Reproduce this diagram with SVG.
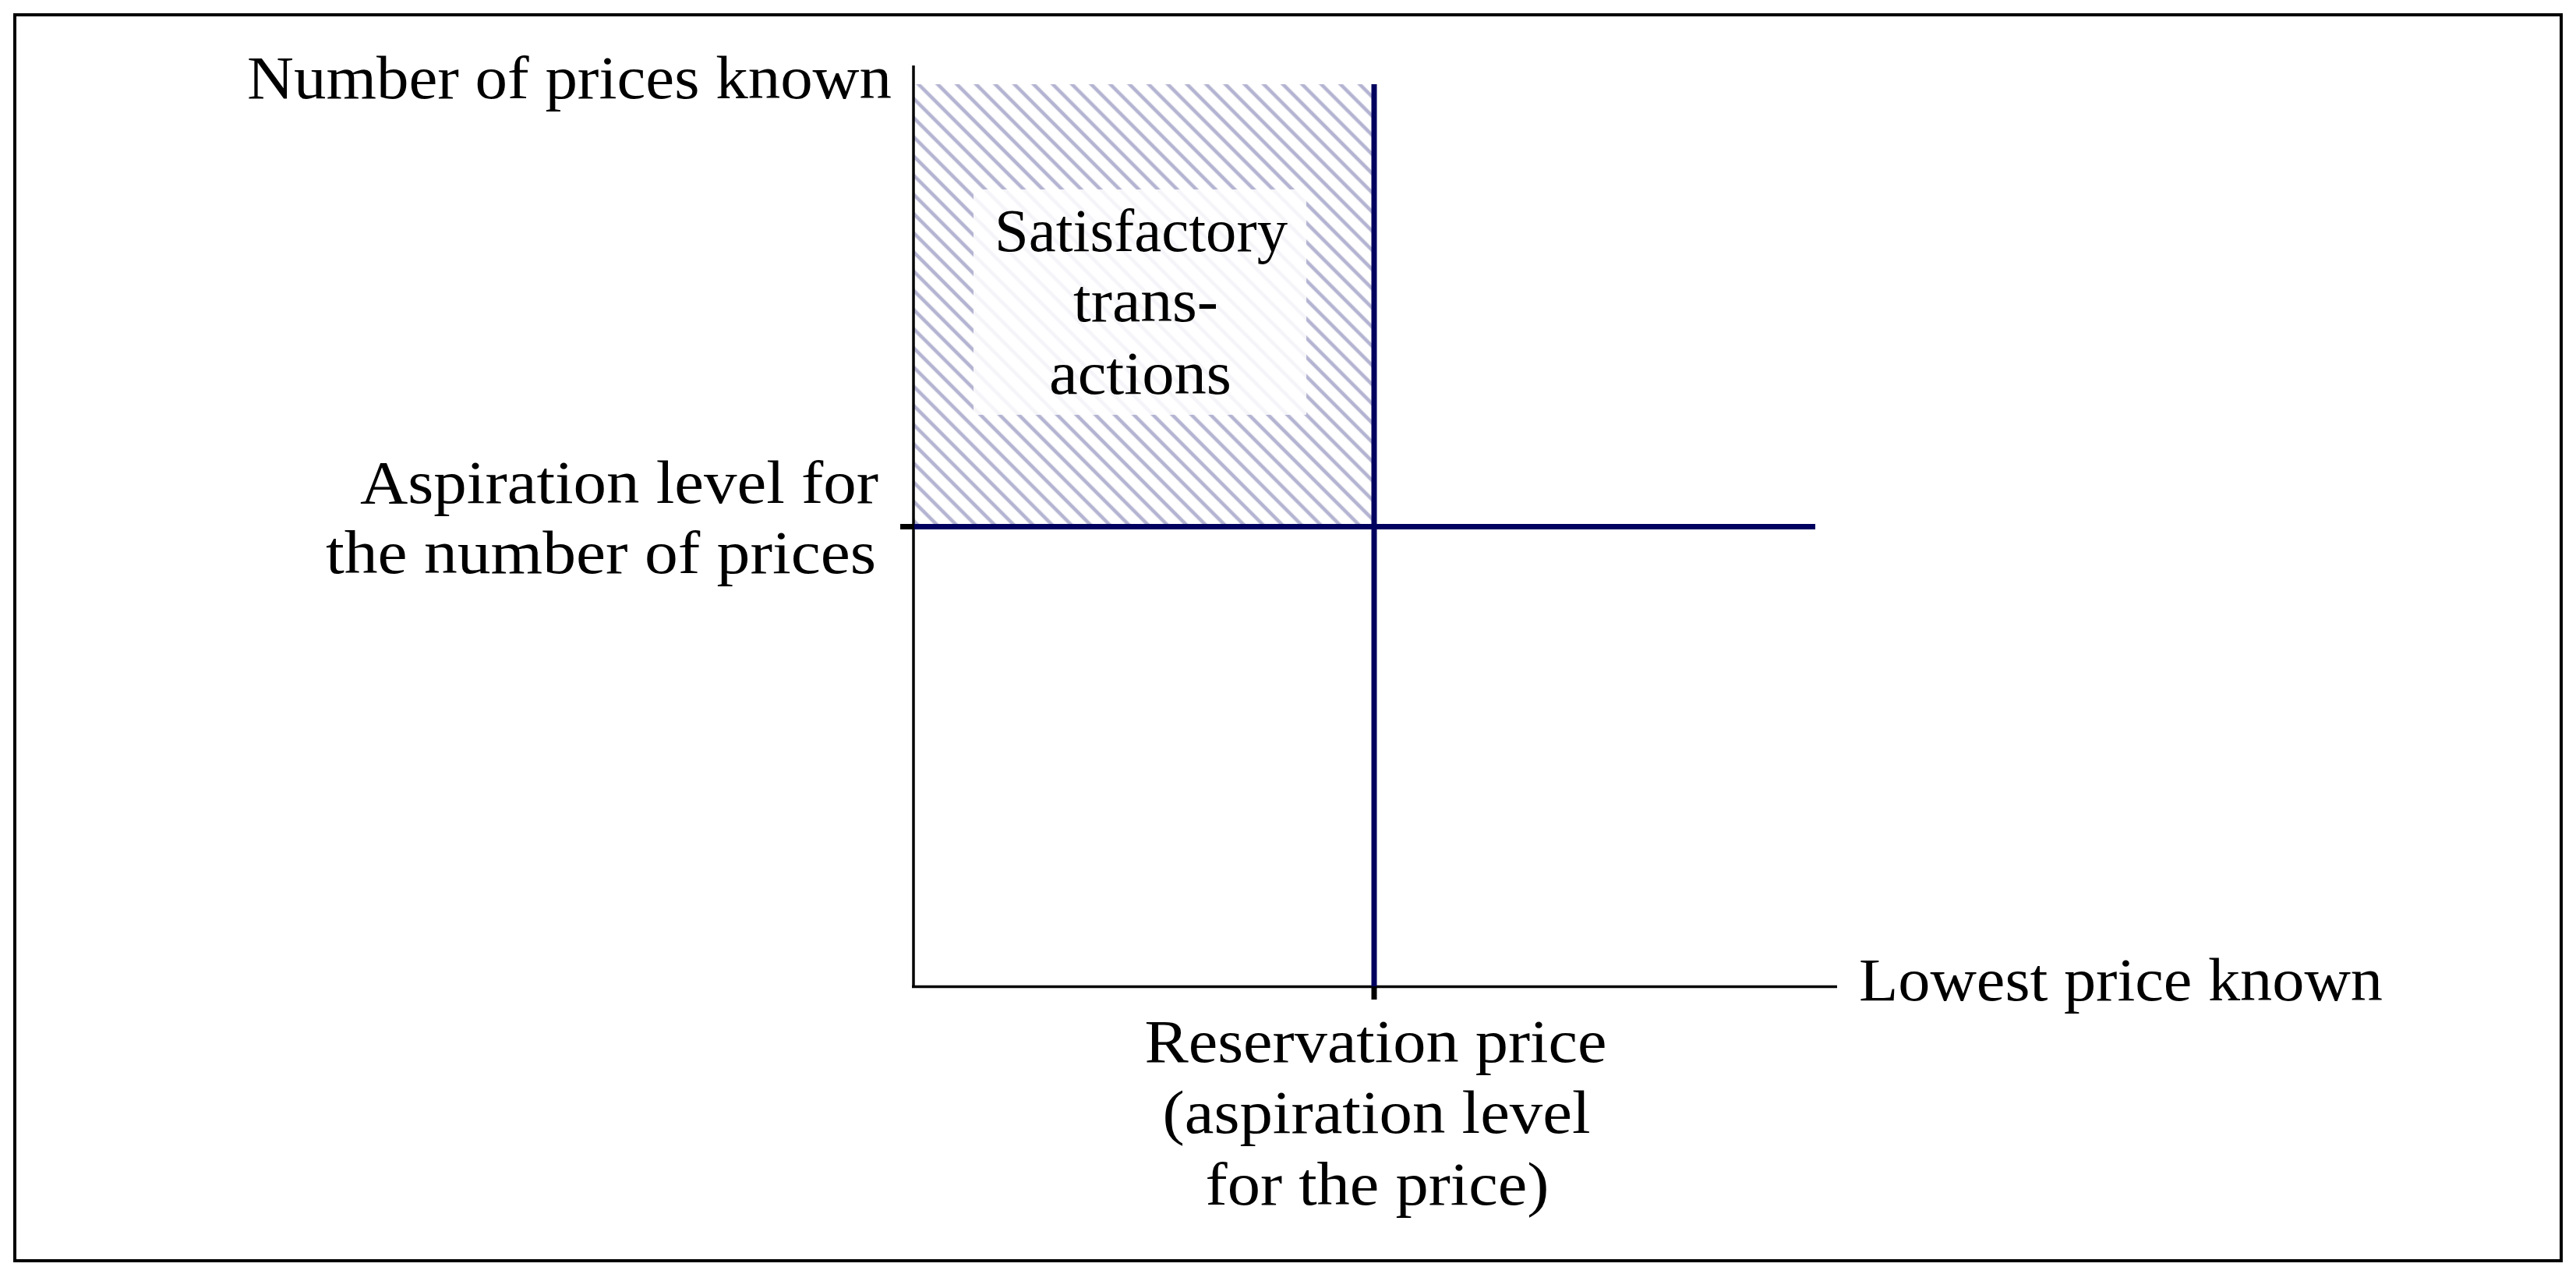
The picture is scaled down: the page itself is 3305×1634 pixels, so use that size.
<svg xmlns="http://www.w3.org/2000/svg" width="3305" height="1634" viewBox="0 0 3305 1634">
<style>
.t{font-family:"Liberation Serif","Times New Roman",serif;font-size:79px;fill:#000}
.ax{stroke:#000;stroke-width:3.5;fill:none}
.nv{stroke:#00005f;stroke-width:7;fill:none}
.tk{stroke:#000;stroke-width:7}
</style>
<defs>
<pattern id="hatch" patternUnits="userSpaceOnUse" width="17.4" height="17.4" patternTransform="rotate(-45)">
<line x1="8.7" y1="-2" x2="8.7" y2="20" stroke="#b4b4d2" stroke-width="4.6"/>
</pattern>
</defs>
<rect x="0" y="0" width="3305" height="1634" fill="#fff"/>
<rect id="frame" x="19" y="19" width="3267" height="1598" fill="none" stroke="#000" stroke-width="4"/>
<g id="region">
<rect x="1172" y="108" width="591" height="567" fill="url(#hatch)"/>
<rect x="1249" y="243" width="427" height="289" fill="#fff" fill-opacity="0.86"/>
<text class="t" text-anchor="middle" x="1464" y="322" textLength="376" lengthAdjust="spacingAndGlyphs">Satisfactory</text>
<text class="t" text-anchor="middle" x="1470" y="412" textLength="186" lengthAdjust="spacingAndGlyphs">trans-</text>
<text class="t" text-anchor="middle" x="1463" y="505" textLength="234" lengthAdjust="spacingAndGlyphs">actions</text>
</g>
<g id="connectors">
<line class="ax" x1="1172" y1="84" x2="1172" y2="1267"/>
<line class="ax" x1="1170" y1="1265.5" x2="2357" y2="1265.5"/>
<line class="nv" x1="1763" y1="108" x2="1763" y2="1265"/>
<line class="nv" x1="1172" y1="675.5" x2="2329" y2="675.5"/>
<line class="tk" x1="1155" y1="675.5" x2="1173" y2="675.5"/>
<line class="tk" x1="1763" y1="1266" x2="1763" y2="1282"/>
</g>
<g id="label-y">
<text class="t" text-anchor="end" x="1144" y="126" textLength="827" lengthAdjust="spacingAndGlyphs">Number of prices known</text>
</g>
<g id="label-aspiration-number">
<text class="t" text-anchor="end" x="1127" y="645" textLength="665" lengthAdjust="spacingAndGlyphs">Aspiration level for</text>
<text class="t" text-anchor="end" x="1124" y="735" textLength="706" lengthAdjust="spacingAndGlyphs">the number of prices</text>
</g>
<g id="label-x">
<text class="t" x="2385" y="1283" textLength="672" lengthAdjust="spacingAndGlyphs">Lowest price known</text>
</g>
<g id="label-reservation">
<text class="t" text-anchor="middle" x="1765" y="1362" textLength="593" lengthAdjust="spacingAndGlyphs">Reservation price</text>
<text class="t" text-anchor="middle" x="1766" y="1453" textLength="549" lengthAdjust="spacingAndGlyphs">(aspiration level</text>
<text class="t" text-anchor="middle" x="1767" y="1545" textLength="441" lengthAdjust="spacingAndGlyphs">for the price)</text>
</g>
</svg>
